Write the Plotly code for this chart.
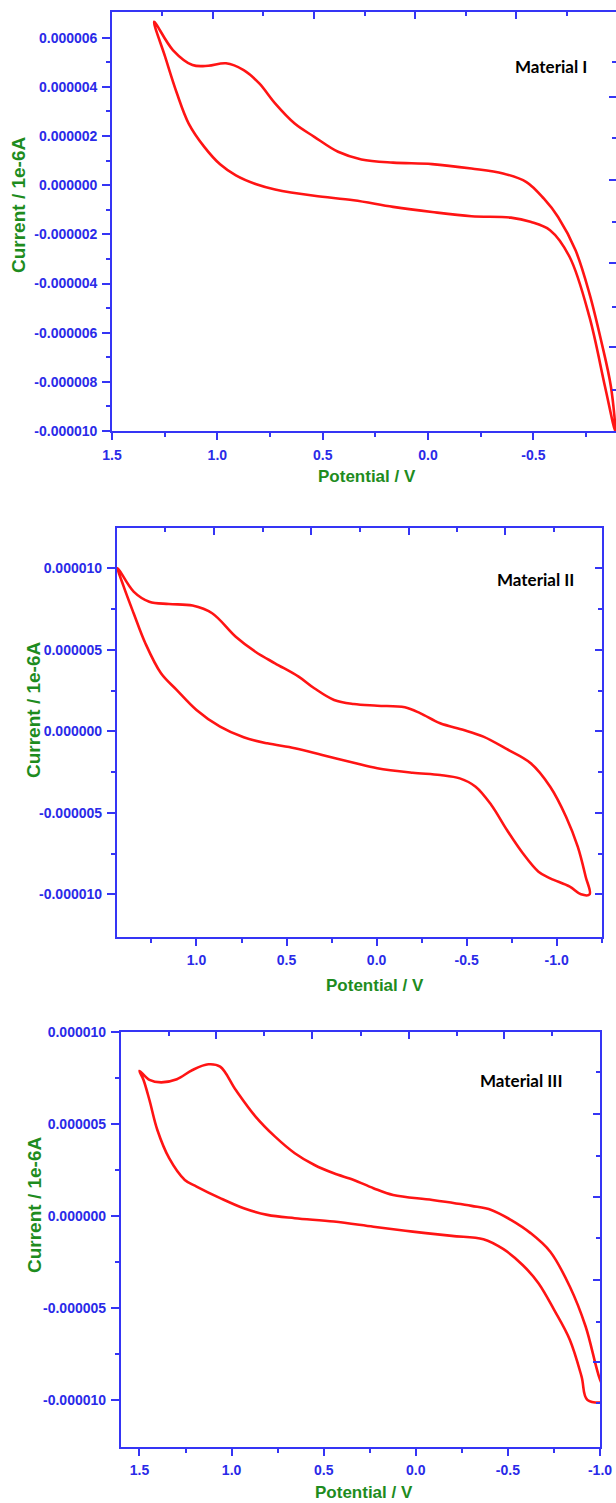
import plotly.graph_objects as go

# ---------------- data (potential in V, current in µA) ----------------
V1 = [1.30, 1.211, 1.118, 1.043, 0.959, 0.875, 0.801, 0.726, 0.633, 0.540, 0.427, 0.316, 0.166,
      -0.019, -0.206, -0.356, -0.467, -0.55, -0.617, -0.70, -0.766, -0.821, -0.868, -0.888,
      -0.84, -0.766, -0.672, -0.579, -0.486, -0.393, -0.206, -0.019, 0.166, 0.353, 0.540, 0.726,
      0.819, 0.912, 0.987, 1.062, 1.136, 1.192, 1.248, 1.30]
I1 = [6.65, 5.5, 4.89, 4.86, 4.96, 4.68, 4.14, 3.33, 2.51, 1.97, 1.36, 1.05, 0.92,
      0.86, 0.68, 0.48, 0.13, -0.55, -1.29, -2.65, -4.41, -6.31, -8.2, -10.0,
      -8.2, -5.36, -2.92, -1.83, -1.49, -1.32, -1.26, -1.09, -0.88, -0.61, -0.43, -0.17,
      0.05, 0.40, 0.85, 1.56, 2.51, 3.74, 5.23, 6.65]

V2 = [1.437, 1.349, 1.262, 1.153, 1.022, 0.913, 0.782, 0.673, 0.564, 0.433, 0.346, 0.236, 0.127,
      -0.004, -0.157, -0.244, -0.353, -0.484, -0.593, -0.724, -0.856, -0.964, -1.052, -1.117,
      -1.161, -1.183, -1.135,
      -1.073, -0.964, -0.899, -0.812, -0.724, -0.637, -0.550, -0.462, -0.353, -0.2, -0.004, 0.127,
      0.302, 0.454, 0.607, 0.738, 0.869, 1.0, 1.109, 1.197, 1.284, 1.349, 1.404, 1.437]
I2 = [10.0, 8.57, 7.95, 7.81, 7.71, 7.24, 5.80, 4.88, 4.17, 3.35, 2.64, 1.92, 1.67,
      1.57, 1.47, 1.10, 0.49, 0.08, -0.33, -1.10, -1.96, -3.40, -5.24, -7.08,
      -8.92, -10.0, -10.0,
      -9.53, -9.02, -8.61, -7.48, -6.06, -4.52, -3.40, -2.89, -2.68, -2.54, -2.27, -1.93,
      -1.45, -1.04, -0.74, -0.37, 0.28, 1.31, 2.53, 3.56, 5.40, 7.24, 8.87, 10.0]

V3 = [1.50, 1.446, 1.382, 1.297, 1.212, 1.126, 1.062, 0.977, 0.870, 0.764, 0.657, 0.550, 0.445,
      0.337, 0.230, 0.123, -0.090, -0.303, -0.41, -0.516, -0.623, -0.730, -0.836, -0.922, -1.0,
      -1.05, -0.932, -0.900, -0.836, -0.751, -0.666, -0.580, -0.474, -0.367, -0.196, 0.017, 0.230,
      0.445, 0.657, 0.806, 0.934, 1.062, 1.19, 1.254, 1.339, 1.403, 1.446, 1.478, 1.50]
I3 = [7.87, 7.38, 7.25, 7.42, 7.92, 8.23, 8.10, 6.83, 5.39, 4.30, 3.40, 2.76, 2.31,
      1.95, 1.50, 1.13, 0.86, 0.54, 0.32, -0.22, -0.94, -1.95, -3.84, -6.01, -8.9,
      -10.0, -10.0, -8.73, -6.73, -5.11, -3.66, -2.67, -1.8, -1.27, -1.09, -0.86, -0.59,
      -0.31, -0.13, 0.05, 0.41, 0.96, 1.59, 1.95, 3.13, 4.66, 6.29, 7.38, 7.87]

LABELS = ["Material I", "Material II", "Material III"]

# tick values
X1_MAJOR = [1.5, 1.0, 0.5, 0.0, -0.5]
X1_MINOR = [1.25, 0.75, 0.25, -0.25, -0.75]
Y1_MAJOR = [-10e-6, -8e-6, -6e-6, -4e-6, -2e-6, 0.0, 2e-6, 4e-6, 6e-6]
Y1_MINOR = [-9e-6, -7e-6, -5e-6, -3e-6, -1e-6, 1e-6, 3e-6, 5e-6]

X2_MAJOR = [1.0, 0.5, 0.0, -0.5, -1.0]
X2_MINOR = [1.25, 0.75, 0.25, -0.25, -0.75, -1.25]
Y2_MAJOR = [-10e-6, -5e-6, 0.0, 5e-6, 10e-6]
Y2_MINOR = [-7.5e-6, -2.5e-6, 2.5e-6, 7.5e-6]

X3_MAJOR = [1.5, 1.0, 0.5, 0.0, -0.5, -1.0]
X3_MINOR = [1.25, 0.75, 0.25, -0.25, -0.75]
Y3_MAJOR = [-10e-6, -5e-6, 0.0, 5e-6, 10e-6]
Y3_MINOR = [-7.5e-6, -2.5e-6, 2.5e-6, 7.5e-6]

# ---------------- layout geometry (pixels) ----------------
W, H = 616, 1503
BLUE_LINE = "#3535f5"
BLUE_TXT = "#2a2ae8"
GREEN = "#1e8c1e"
RED = "#ff1414"
TICKFONT = dict(family="Liberation Sans, Arial, sans-serif", size=14, color=BLUE_TXT, weight="bold")

panels = [
    dict(box=(112, 11.7, 616, 431), xr=[1.5, -0.892], yr=[-10e-6, 7.06e-6],
         xmaj=X1_MAJOR, xmin=X1_MINOR, ymaj=Y1_MAJOR, ymin=Y1_MINOR, V=V1, I=I1,
         top_long=[101, 202, 303, 404], top_short=[50, 151, 253, 354, 455],
         right_long=[85, 168.3, 251.3, 335], right_short=[50, 126, 210, 295, 378.3],
         xtitle=(367, 477), ytitle=(18, 205), lab=(551, 67)),
    dict(box=(116.7, 528.3, 601.7, 936.7), xr=[1.443, -1.25], yr=[-12.6e-6, 12.45e-6],
         xmaj=X2_MAJOR, xmin=X2_MINOR, ymaj=Y2_MAJOR, ymin=Y2_MINOR, V=V2, I=I2,
         top_long=[97.3, 194.3, 291.9, 388.3], top_short=[48.3, 145.8, 242.8, 339.9, 437.3],
         right_long=None, right_short=None,
         xtitle=(375, 985), ytitle=(33, 710), lab=(535, 579)),
    dict(box=(120.7, 1031.7, 600, 1446.7), xr=[1.602, -1.0], yr=[-12.54e-6, 10e-6],
         xmaj=X3_MAJOR, xmin=X3_MINOR, ymaj=Y3_MAJOR, ymin=Y3_MINOR, V=V3, I=I3,
         top_long=[95.3, 191.3, 288.3, 383.3], top_short=[48.3, 143.3, 240.3, 335.9, 431.3],
         right_long=[82.3, 165, 248.3, 330.3], right_short=[40, 124, 206.3, 290, 371.3],
         xtitle=(364, 1492), ytitle=(34, 1205), lab=(521, 1080)),
]

fig = go.Figure()
layout = dict(width=W, height=H, margin=dict(l=0, r=0, t=0, b=0, autoexpand=False),
              paper_bgcolor="white", plot_bgcolor="white", showlegend=False)
annotations = []

def fx(p):
    return p / W

def fy(p):
    return 1 - p / H

for k, p in enumerate(panels, start=1):
    x0, y0, x1, y1 = p["box"]
    xs = "" if k == 1 else str(k)
    xa, ya = "x" + xs, "y" + xs
    xo, yo = str(k + 3), str(k + 3)

    fig.add_trace(go.Scatter(
        x=p["V"], y=[v * 1e-6 for v in p["I"]], mode="lines",
        line=dict(color=RED, width=2.6, shape="spline", smoothing=1.0),
        xaxis=xa, yaxis=ya, hoverinfo="skip"))
    fig.add_trace(go.Scatter(x=[None], y=[None], xaxis="x" + xo, yaxis="y" + yo,
                             showlegend=False, hoverinfo="skip"))

    common = dict(showgrid=False, zeroline=False, showline=True, linecolor=BLUE_LINE,
                  linewidth=1.6, tickcolor=BLUE_LINE, tickwidth=1.6, automargin=False)

    layout["xaxis" + xs] = dict(
        domain=[fx(x0), fx(x1)], anchor=ya, range=p["xr"],
        tickmode="array", tickvals=p["xmaj"], ticktext=[f"{v:.1f}" for v in p["xmaj"]],
        ticks="outside", ticklen=7, tickfont=TICKFONT, ticklabelstandoff=3,
        minor=dict(tickmode="array", tickvals=p["xmin"], ticks="outside", ticklen=4,
                   tickcolor=BLUE_LINE, tickwidth=1.6, showgrid=False),
        **common)
    layout["yaxis" + xs] = dict(
        domain=[fy(y1), fy(y0)], anchor=xa, range=p["yr"],
        tickmode="array", tickvals=p["ymaj"],
        ticktext=[f"{v:.6f}".replace("-0.000000", "0.000000") for v in p["ymaj"]],
        ticks="outside", ticklen=8, tickfont=TICKFONT, ticklabelstandoff=2,
        minor=dict(tickmode="array", tickvals=p["ymin"], ticks="outside", ticklen=4,
                   tickcolor=BLUE_LINE, tickwidth=1.6, showgrid=False),
        **common)

    # top axis (inside ticks, own spacing)
    pw = x1 - x0
    layout["xaxis" + xo] = dict(
        overlaying=xa, anchor=ya, side="top", range=[0, pw],
        tickmode="array", tickvals=p["top_long"], ticks="inside", ticklen=7,
        showticklabels=False,
        minor=dict(tickmode="array", tickvals=p["top_short"], ticks="inside", ticklen=4,
                   tickcolor=BLUE_LINE, tickwidth=1.6, showgrid=False),
        **common)
    # right axis
    ph = y1 - y0
    if p["right_long"] is None:
        layout["yaxis" + yo] = dict(
            overlaying=ya, anchor=xa, side="right", range=p["yr"],
            tickmode="array", tickvals=p["ymaj"], ticks="inside", ticklen=7,
            showticklabels=False,
            minor=dict(tickmode="array", tickvals=p["ymin"], ticks="inside", ticklen=4,
                       tickcolor=BLUE_LINE, tickwidth=1.6, showgrid=False),
            **common)
    else:
        layout["yaxis" + yo] = dict(
            overlaying=ya, anchor=xa, side="right", range=[ph, 0],
            tickmode="array", tickvals=p["right_long"], ticks="inside", ticklen=7,
            showticklabels=False,
            minor=dict(tickmode="array", tickvals=p["right_short"], ticks="inside", ticklen=4,
                       tickcolor=BLUE_LINE, tickwidth=1.6, showgrid=False),
            **common)

    tx, ty = p["xtitle"]
    annotations.append(dict(text="Potential / V", x=fx(tx), y=fy(ty), xref="paper", yref="paper",
                            showarrow=False, xanchor="center", yanchor="middle",
                            font=dict(family="Liberation Sans, Arial, sans-serif", size=17,
                                      color=GREEN, weight="bold")))
    ux, uy = p["ytitle"]
    annotations.append(dict(text="Current / 1e-6A", x=fx(ux), y=fy(uy), xref="paper", yref="paper",
                            showarrow=False, xanchor="center", yanchor="middle", textangle=-90,
                            font=dict(family="Liberation Sans, Arial, sans-serif", size=19,
                                      color=GREEN, weight="bold")))
    lx, ly = p["lab"]
    annotations.append(dict(text=LABELS[k - 1], x=fx(lx), y=fy(ly), xref="paper", yref="paper",
                            showarrow=False, xanchor="center", yanchor="middle",
                            font=dict(family="Lato, Open Sans, sans-serif", size=17,
                                      color="black", weight="bold")))

layout["annotations"] = annotations
fig.update_layout(**layout)
fig.write_html("out.html", config={"displayModeBar": False},
               post_script="document.body.style.margin='0';document.body.style.overflow='hidden';")
